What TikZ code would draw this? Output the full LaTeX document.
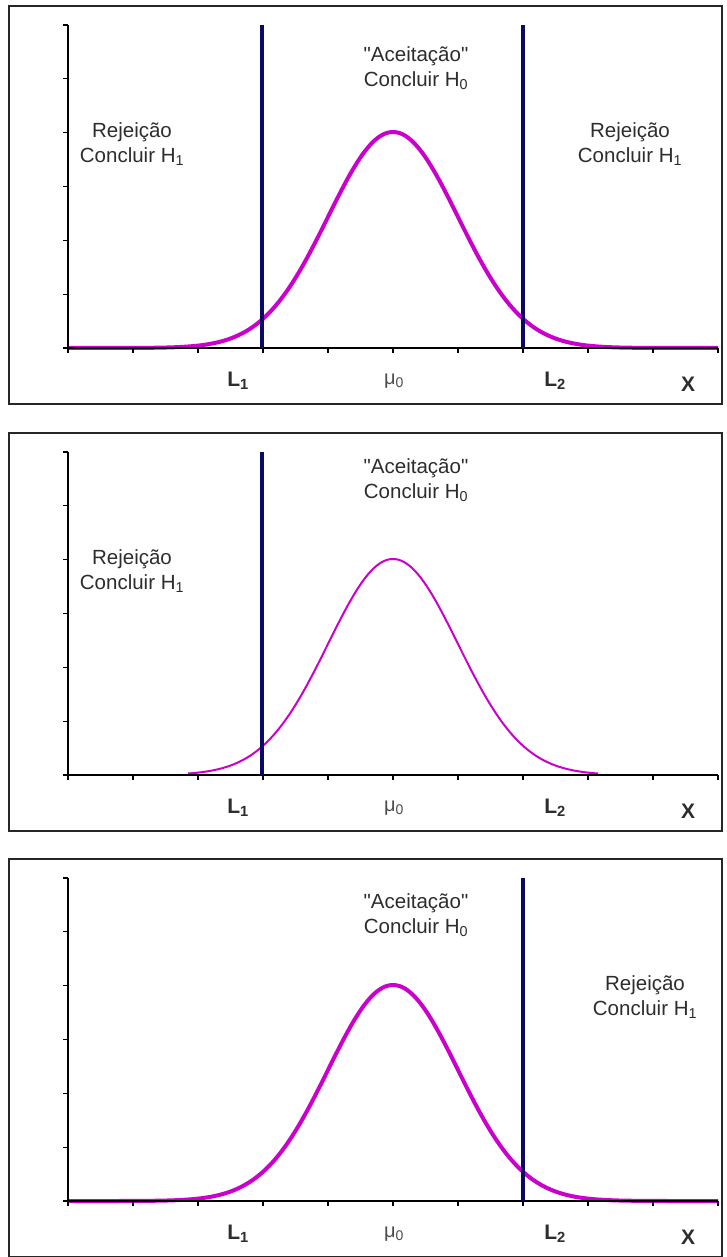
\documentclass[tikz,border=0pt]{standalone}
\usepackage{fontspec}
\setmainfont{Liberation Sans}[Ligatures=TeXOff]
\definecolor{mag}{RGB}{204,0,204}
\definecolor{navyc}{RGB}{10,10,100}
\definecolor{txt}{RGB}{45,45,45}
\tikzset{
  frame/.style={draw=black!85, line width=1.3pt},
  axis/.style={draw=black, line width=1.1pt},
  limline/.style={draw=navyc, line width=3.5pt},
  curvethick/.style={draw=mag, line width=4pt},
  curvethin/.style={draw=mag, line width=2pt},
  lbl/.style={text=txt, font=\fontsize{20.5}{25}\selectfont, align=center, inner sep=0pt},
  axlbl/.style={text=txt, font=\fontsize{21}{24}\selectfont\bfseries, inner sep=0pt},
  mulbl/.style={text=txt!85, font=\fontsize{20}{24}\selectfont, inner sep=0pt},
}
\begin{document}
\begin{tikzpicture}[x=1pt,y=-1pt]
\useasboundingbox (0,0) rectangle (727,1257);
\fill[white] (0,0) rectangle (727,1257);

% ---------- Panel 1 ----------
\begin{scope}
  \draw[frame] (9,6) rectangle (722,404);
  \coordinate (a1top) at (68,25);
  \coordinate (a1org) at (68,348);
  \coordinate (a1end) at (718,348);
  \draw[curvethick] plot[domain=68:718, samples=160, smooth] (\x, {348-216*exp(-0.5*((\x-393)/65)*((\x-393)/65))});
  \draw[axis] (a1top) -- (a1org) -- (a1end);
  \foreach \i in {0,...,10} \draw[axis] (68+65*\i,348) -- ++(0,5);
  \foreach \j in {0,...,6} \draw[axis] (68,348-53.833*\j) -- ++(-5,0);
  \coordinate (p1l1t) at (262,25); \coordinate (p1l1b) at (262,348);
  \coordinate (p1l2t) at (523,25); \coordinate (p1l2b) at (523,348);
  \draw[limline] (p1l1t) -- (p1l1b);
  \draw[limline] (p1l2t) -- (p1l2b);
  \node[lbl] (p1acc) at (416,68) {"Aceitação"\\Concluir H\textsubscript{0}};
  \node[lbl] (p1rejL) at (132,144) {Rejeição\\Concluir H\textsubscript{1}};
  \node[lbl] (p1rejR) at (630,144) {Rejeição\\Concluir H\textsubscript{1}};
  \node[axlbl] (p1L1) at (238,381) {L\textsubscript{1}};
  \node[mulbl] (p1mu) at (394,381) {μ\textsubscript{0}};
  \node[axlbl] (p1L2) at (555,381) {L\textsubscript{2}};
  \node[axlbl] (p1X) at (688,384) {X};
\end{scope}

% ---------- Panel 2 ----------
\begin{scope}[shift={(0,427)}]
  \draw[frame] (9,6) rectangle (722,404);
  \coordinate (a2top) at (68,25);
  \coordinate (a2org) at (68,348);
  \coordinate (a2end) at (718,348);
  \draw[curvethin] plot[domain=188:598, samples=140, smooth] (\x, {348-216*exp(-0.5*((\x-393)/65)*((\x-393)/65))});
  \draw[axis] (a2top) -- (a2org) -- (a2end);
  \foreach \i in {0,...,10} \draw[axis] (68+65*\i,348) -- ++(0,5);
  \foreach \j in {0,...,6} \draw[axis] (68,348-53.833*\j) -- ++(-5,0);
  \coordinate (p2l1t) at (262,25); \coordinate (p2l1b) at (262,348);
  \draw[limline] (p2l1t) -- (p2l1b);
  \node[lbl] (p2acc) at (416,53) {"Aceitação"\\Concluir H\textsubscript{0}};
  \node[lbl] (p2rejL) at (132,144) {Rejeição\\Concluir H\textsubscript{1}};
  \node[axlbl] (p2L1) at (238,381) {L\textsubscript{1}};
  \node[mulbl] (p2mu) at (394,381) {μ\textsubscript{0}};
  \node[axlbl] (p2L2) at (555,381) {L\textsubscript{2}};
  \node[axlbl] (p2X) at (688,384) {X};
\end{scope}

% ---------- Panel 3 ----------
\begin{scope}[shift={(0,853)}]
  \draw[frame] (9,6) rectangle (722,404);
  \coordinate (a3top) at (68,25);
  \coordinate (a3org) at (68,348);
  \coordinate (a3end) at (718,348);
  \draw[curvethick] plot[domain=68:718, samples=160, smooth] (\x, {348-216*exp(-0.5*((\x-393)/65)*((\x-393)/65))});
  \draw[axis] (a3top) -- (a3org) -- (a3end);
  \foreach \i in {0,...,10} \draw[axis] (68+65*\i,348) -- ++(0,5);
  \foreach \j in {0,...,6} \draw[axis] (68,348-53.833*\j) -- ++(-5,0);
  \coordinate (p3l2t) at (523,25); \coordinate (p3l2b) at (523,348);
  \draw[limline] (p3l2t) -- (p3l2b);
  \node[lbl] (p3acc) at (416,62) {"Aceitação"\\Concluir H\textsubscript{0}};
  \node[lbl] (p3rejR) at (645,144) {Rejeição\\Concluir H\textsubscript{1}};
  \node[axlbl] (p3L1) at (238,381) {L\textsubscript{1}};
  \node[mulbl] (p3mu) at (394,381) {μ\textsubscript{0}};
  \node[axlbl] (p3L2) at (555,381) {L\textsubscript{2}};
  \node[axlbl] (p3X) at (688,384) {X};
\end{scope}
\end{tikzpicture}
\end{document}
